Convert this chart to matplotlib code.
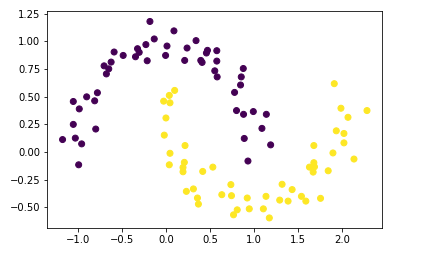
import matplotlib
matplotlib.use("Agg")
import matplotlib.pyplot as plt
import numpy as np

# two half-moon classes
moon_0_x = [-0.186, 0.087, -0.137, 0.338, -0.232, -0.327, 0.008, 0.236, 0.468, 0.456,
            0.574, -0.593, -0.308, -0.490, -0.350, -0.008, -0.627, -0.217, 0.209, 0.392,
            0.407, 0.574, -0.707, -0.654, -0.681, 0.551, 0.578, 0.875, 0.852, 0.844,
            0.776, -0.783, -0.905, -1.057, -0.814, -0.989, 0.798, 0.878, 0.989, 1.137,
            -1.057, -0.802, 1.087, -1.179, -1.034, -0.962, 0.886, 1.186, -0.996, 0.928]
moon_0_y = [1.179, 1.094, 1.021, 1.006, 0.970, 0.933, 0.957, 0.939, 0.918, 0.894,
            0.915, 0.903, 0.900, 0.872, 0.860, 0.872, 0.812, 0.824, 0.827, 0.827,
            0.809, 0.821, 0.778, 0.751, 0.705, 0.733, 0.678, 0.754, 0.678, 0.605,
            0.538, 0.535, 0.498, 0.456, 0.462, 0.389, 0.374, 0.340, 0.365, 0.340,
            0.249, 0.207, 0.213, 0.112, 0.125, 0.073, 0.122, 0.064, -0.116, -0.082]

moon_1_x = [1.909, 1.985, 2.065, 2.281, 0.095, 0.034, -0.030, 0.042, -0.004, -0.023,
            0.213, 0.042, 0.034, 0.205, 0.190, 0.190, 0.414, 0.529, 0.228, 0.308,
            0.354, 0.365, 0.631, 0.734, 0.741, 0.920, 0.806, 0.764, 0.943, 1.133,
            1.103, 1.171, 1.316, 1.430, 1.289, 1.384, 1.536, 1.586, 1.753, 1.840,
            1.677, 1.627, 1.677, 1.684, 1.669, 1.894, 1.932, 2.019, 2.019, 2.133]
moon_1_y = [0.617, 0.395, 0.313, 0.374, 0.556, 0.511, 0.459, 0.444, 0.307, 0.152,
            0.058, -0.012, -0.116, -0.094, -0.140, -0.179, -0.176, -0.137, -0.356, -0.334,
            -0.416, -0.471, -0.386, -0.295, -0.395, -0.416, -0.523, -0.568, -0.514, -0.401,
            -0.514, -0.596, -0.292, -0.340, -0.435, -0.444, -0.401, -0.444, -0.419, -0.170,
            0.058, -0.137, -0.097, -0.134, -0.182, -0.009, 0.191, 0.167, 0.082, -0.064]

X = np.array(moon_0_x + moon_1_x)
Y = np.array(moon_0_y + moon_1_y)
labels = np.array([0] * len(moon_0_x) + [1] * len(moon_1_x))

fig = plt.figure(figsize=(423 / 72, 260 / 72), dpi=72)
ax = fig.add_axes([0.1119, 0.1231, 0.7919, 0.8365])
ax.scatter(X, Y, c=labels, cmap="viridis")
ax.set_xlim(-1.352, 2.455)
ax.set_ylim(-0.687, 1.278)

fig.savefig("out.png", dpi=72)
